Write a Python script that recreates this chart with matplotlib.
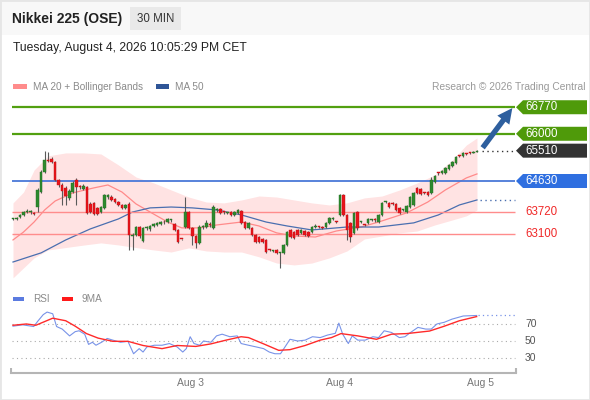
import matplotlib
matplotlib.use("Agg")
import matplotlib.pyplot as plt
from matplotlib.patches import Polygon, Rectangle, FancyArrowPatch
from matplotlib.transforms import IdentityTransform
import numpy as np

plt.rcParams['font.family'] = ['Liberation Sans', 'DejaVu Sans']

W, H = 590, 400

# 30 min candles, Nikkei 225 (OSE)
opens = [63530, 63530, 63585, 63645, 63730, 63730, 63705, 63875, 64310, 64890,
         65240, 65270, 65180, 64660, 64515, 64430, 64140, 64310, 64660, 64485,
         64400, 64455, 63965, 63995, 63850, 63730, 63850, 64165, 64165, 64110,
         64020, 63935, 63850, 63965, 63035, 63065, 63295, 62890, 63270, 63240,
         63325, 63355, 63385, 63440, 63440, 63500, 63385, 63210, 62950, 63295,
         63730, 63270, 63035, 62835, 63295, 63295, 63355, 63270, 63790, 63820,
         63730, 63705, 63730, 63645, 63705, 63760, 63440, 63270, 63270, 63065,
         63005, 62950, 62920, 62630, 62601, 62630, 62545, 62545, 62775, 63210,
         63150, 63210, 63125, 63180, 63150, 63150, 63295, 63295, 63295, 63295,
         63415, 63530, 63440, 63645, 64225, 63645, 63415, 63125, 63730, 63440,
         63355, 63415, 63500, 63500, 63440, 63645, 64020, 63995, 63965, 63965,
         63850, 63790, 63730, 63875, 63935, 64430, 64400, 64285, 64310, 64285,
         64600, 64865, 64865, 64865, 64980, 65065, 65155, 65355, 65355, 65415,
         65445, 65445, 65470]
closes = [63530, 63560, 63645, 63730, 63760, 63730, 63675, 64370, 64890, 65240,
          65215, 65180, 64660, 64515, 64340, 64195, 64340, 64575, 64455, 64455,
          64485, 63705, 63730, 63675, 63675, 63875, 64225, 64225, 64080, 64020,
          63935, 63850, 63935, 63065, 63050, 63295, 63035, 63270, 63280, 63325,
          63385, 63415, 63440, 63430, 63530, 63510, 63210, 62860, 62945, 63730,
          63270, 63035, 62835, 63295, 63300, 63415, 63350, 63875, 63795, 63705,
          63725, 63710, 63645, 63730, 63790, 63415, 63270, 63415, 63065, 62860,
          62860, 62860, 62570, 62625, 62605, 62545, 62550, 62775, 63150, 63005,
          62980, 63065, 63210, 63065, 63035, 63295, 63300, 63290, 63270, 63415,
          63560, 63535, 63435, 64225, 63645, 63210, 63005, 63705, 63270, 63445,
          63350, 63530, 63505, 63495, 63645, 63995, 64025, 63875, 63960, 63790,
          63705, 63795, 63905, 64165, 64285, 64285, 64255, 64280, 64225, 64660,
          64775, 64860, 64920, 65010, 65095, 65180, 65325, 65350, 65445, 65410,
          65440, 65470, 65510]
highs = [63560, 63585, 63675, 63760, 63820, 63790, 63730, 64430, 64950, 65500,
         65470, 65325, 65210, 64690, 64575, 64485, 64400, 64630, 64720, 64515,
         64545, 64485, 64020, 64020, 63875, 63905, 64255, 64255, 64225, 64140,
         64050, 63965, 63965, 64020, 63125, 63325, 63325, 63295, 63325, 63355,
         63415, 63440, 63470, 63500, 63560, 63530, 63415, 63240, 62960, 64165,
         63760, 63295, 63065, 63355, 63355, 63500, 63440, 63935, 63850, 63850,
         63760, 63730, 63760, 63760, 63820, 63790, 63470, 63440, 63295, 63095,
         63035, 62980, 62950, 62660, 62630, 62660, 62570, 62805, 63180, 63240,
         63180, 63240, 63240, 63210, 63180, 63325, 63385, 63325, 63325, 63440,
         63585, 63585, 63470, 64255, 64255, 63675, 63440, 63730, 63760, 63470,
         63385, 63560, 63530, 63560, 63675, 64020, 64050, 64020, 64020, 63995,
         63875, 63820, 63935, 64195, 64310, 64455, 64430, 64310, 64340, 64745,
         64805, 64890, 64950, 65035, 65125, 65210, 65355, 65385, 65470, 65445,
         65470, 65500, 65530]
lows = [63500, 63500, 63560, 63615, 63705, 63675, 63645, 63730, 64285, 64865,
        65180, 65155, 64630, 64455, 63935, 63935, 64080, 64285, 63935, 64400,
        64370, 63675, 63705, 63645, 63645, 63705, 63820, 64110, 64050, 63995,
        63905, 63820, 63820, 62630, 62630, 63035, 62980, 62860, 63210, 63180,
        63295, 63325, 63355, 63385, 63415, 63440, 63180, 62835, 62920, 63270,
        63240, 62775, 62690, 62805, 63240, 63270, 63295, 63240, 63730, 63675,
        63675, 63675, 63615, 63615, 63675, 63385, 63240, 63240, 63035, 62835,
        62835, 62835, 62545, 62600, 62570, 62515, 62110, 62515, 62745, 62980,
        62950, 63035, 63095, 63035, 63005, 63125, 63270, 63270, 63240, 63270,
        63385, 63500, 63415, 63615, 63615, 62920, 62860, 63095, 63210, 63415,
        63325, 63385, 63470, 63440, 63415, 63615, 63995, 63850, 63935, 63760,
        63675, 63760, 63705, 63850, 63905, 64255, 64225, 64255, 64195, 64255,
        64575, 64805, 64835, 64835, 64950, 65035, 65125, 65325, 65325, 65385,
        65415, 65440, 65460]

# Bollinger bands (MA 20) and MA 50, read at bar positions
band_idx = [0, 3, 6, 10, 15, 20, 25, 30, 35, 40, 45, 50, 55, 60, 65,
            70, 75, 80, 85, 90, 95, 100, 105, 110, 115, 120, 125, 129, 132]
band_upper = [63995, 64310, 64950, 65360, 65445, 65445, 65415, 65095, 64745, 64575,
              64370, 64165, 64020, 63995, 64080, 64195, 64165, 64080, 63995, 63935,
              63995, 64140, 64195, 64370, 64575, 64805, 65240, 65675, 65880]
band_lower = [61820, 62110, 62400, 62630, 62700, 62770, 62835, 62775, 62700, 62630,
              62570, 62690, 62600, 62570, 62570, 62430, 62250, 62195, 62250, 62400,
              62600, 62950, 63035, 63125, 63180, 63355, 63500, 63620, 63790]
ma20_idx = [0, 3, 6, 9, 12, 17, 23, 27, 31, 35, 39, 44, 48, 53, 58, 65, 70, 75,
            80, 86, 92, 99, 104, 112, 118, 123, 129, 132]
ma20 = [62920, 63150, 63440, 63790, 64050, 64285, 64430, 64515, 64310, 63965,
        63730, 63440, 63270, 63270, 63355, 63440, 63325, 63125, 63035, 63005,
        63180, 63295, 63440, 63705, 64020, 64370, 64720, 64835]
ma50_idx = [0, 8, 15, 22, 30, 34, 39, 45, 51, 58, 65, 72, 78, 85, 95, 104, 114, 121, 127, 132]
ma50 = [62280, 62545, 62920, 63240, 63530, 63730, 63850, 63875, 63850, 63790,
        63645, 63440, 63325, 63210, 63295, 63295, 63415, 63645, 63935, 64080]

# key levels
resist = [66770, 66000]
pivot = 64630
support = [63720, 63100]

# RSI + 9MA
rsi_idx = [0, 2.7, 5.9, 7.0, 8.6, 9.7, 11.3, 12.4, 14.0, 16.1, 17.7, 18.8, 20.4, 21.5,
           22.6, 23.6, 25.2, 26.8, 28.4, 30.6, 32.7, 34.3, 35.9, 37.0, 38.1, 40.2, 42.4,
           44.5, 46.7, 48.3, 49.3, 50.4, 51.5, 53.1, 54.2, 56.3, 57.9, 59.5, 61.7, 63.8,
           64.9, 67.0, 69.2, 71.3, 72.9, 74.5, 76.1, 77.7, 78.8, 81.0, 83.1, 85.2, 87.4,
           89.5, 91.7, 92.7, 93.8, 95.4, 96.5, 98.1, 100.2, 102.4, 104.0, 105.6, 107.7,
           109.9, 111.5, 113.1, 115.2, 117.4, 119.0, 120.6, 122.7, 124.9, 128.1, 131.9]
rsi = [67.4, 69, 67, 73, 81, 84, 82, 67, 64, 56, 61, 62, 58, 46, 48.5, 45, 48.5, 53,
       51, 48.5, 49.6, 35, 41, 37, 43, 45, 45, 47, 43, 37, 41, 55, 47, 45, 50, 48.5,
       56, 58, 55, 56, 47, 45, 43, 41, 37, 35, 35, 45, 52, 50, 51, 55, 54, 57, 59, 71,
       58, 47, 56, 51, 51, 55, 54, 62, 60, 54, 55, 60, 66, 64, 64, 70, 72, 75.7, 79.4, 80]
ma9_idx = [0, 3.8, 6.5, 11.3, 15.0, 17.7, 20.9, 24.2, 28.4, 32.7, 37.0, 42.4, 46.7,
           52.0, 56.3, 60.6, 64.9, 67.0, 71.3, 75.6, 78.8, 83.1, 87.4, 90.6, 93.3,
           98.1, 103.4, 107.7, 112.0, 118.5, 122.7, 127.0, 131.9]
ma9 = [68.5, 70, 68.5, 76.8, 73.8, 67.4, 58.7, 53.4, 49.6, 49.6, 44.7, 41, 44.7,
       43.6, 46.6, 51, 55, 54, 46.6, 39, 39.8, 44.7, 51, 54, 58.7, 56, 52, 58, 58.7,
       61.7, 67.4, 73.8, 78.7]
rsi_levels = [30, 50, 70]

day_pos = [50.4, 93.0, 133.1]
day_labels = ['Aug 3', 'Aug 4', 'Aug 5']


def px2i(px):
    # pixel column -> bar index
    return (px - 13) / 3.515


def rect(x0, y0, x1, y1):
    return [x0 / W, 1 - y1 / H, (x1 - x0) / W, (y1 - y0) / H]


fig = plt.figure(figsize=(W / 100, H / 100), dpi=100)
fig.patch.set_facecolor('white')

# header
fig.add_artist(Rectangle((0, 1 - 35 / H), 1, 35 / H, transform=fig.transFigure,
                         facecolor='#f8f8f8', edgecolor='none', zorder=0))
fig.add_artist(Rectangle((130 / W, 1 - 30 / H), 51 / W, 23 / H, transform=fig.transFigure,
                         facecolor='#e9e9e9', edgecolor='none', zorder=1))
fig.text(12 / W, 1 - 19 / H, 'Nikkei 225 (OSE)', fontsize=10, fontweight='bold',
         color='#222222', va='center')
fig.text(155.5 / W, 1 - 19 / H, '30 MIN', fontsize=8.3, color='#333333',
         va='center', ha='center')
fig.text(13 / W, 1 - 48 / H, 'Tuesday, August 4, 2026 10:05:29 PM CET', fontsize=8.7,
         color='#222222', va='center')

# legend row
fig.add_artist(Rectangle((13 / W, 1 - 89 / H), 14 / W, 5 / H, transform=fig.transFigure,
                         facecolor='#ff8c8c', edgecolor='none'))
fig.text(33 / W, 1 - 86.5 / H, 'MA 20 + Bollinger Bands', fontsize=7.2, color='#8a8a8a', va='center')
fig.add_artist(Rectangle((156 / W, 1 - 89 / H), 13 / W, 5 / H, transform=fig.transFigure,
                         facecolor='#2f5597', edgecolor='none'))
fig.text(175 / W, 1 - 86.5 / H, 'MA 50', fontsize=7.2, color='#8a8a8a', va='center')
fig.text(586 / W, 1 - 86.5 / H, 'Research \u00a9 2026 Trading Central', fontsize=7.4,
         color='#9a9a9a', va='center', ha='right')

# price panel
ax = fig.add_axes(rect(10, 95, 588, 282))
ax.set_xlim(px2i(10), px2i(588))
ax.set_ylim(61700, 67125)
ax.axis('off')

ax.fill_between(band_idx, band_lower, band_upper, color='#ffe3e3', lw=0, zorder=1)
ax.plot(ma20_idx, ma20, color='#ff8a8a', lw=0.9, zorder=2)
ax.plot(ma50_idx, ma50, color='#4a6fb0', lw=0.9, zorder=2)

xa, xb = px2i(12), px2i(515)
ax.hlines(resist, xa, xb, color='#52a010', lw=1.6, zorder=2)
ax.hlines(pivot, xa, xb, color='#4a78d8', lw=1.3, zorder=2)
ax.hlines(support, xa, xb, color='#ff8c8c', lw=1.0, zorder=2)

idx = np.arange(len(closes))
o = np.array(opens)
c = np.array(closes)
up = c >= o
bottom = np.minimum(o, c)
body = np.maximum(np.abs(c - o), 25)
ax.vlines(idx, lows, highs, color='#5a5a5a', lw=0.8, zorder=3)
ax.bar(idx[up], body[up], bottom=bottom[up], width=0.72, color='#2e8a2e',
       edgecolor='#236b23', lw=0.3, zorder=4)
ax.bar(idx[~up], body[~up], bottom=bottom[~up], width=0.72, color='#e8141b',
       edgecolor='#c01015', lw=0.3, zorder=4)

ax.hlines(closes[-1], px2i(482), px2i(515), color='#333333', lw=1, linestyles=(0, (1, 2.5)), zorder=3)
ax.hlines(ma50[-1], px2i(480), px2i(515), color='#4a6fb0', lw=1, linestyles=(0, (1, 2.5)), zorder=3)

arr = FancyArrowPatch((px2i(481), closes[-1] + 20), (px2i(514), resist[0] + 40),
                      arrowstyle='simple,head_width=0.9,head_length=0.9,tail_width=0.32',
                      mutation_scale=12, color='#2e5f9e', lw=0, zorder=6)
ax.add_patch(arr)

# price tags on the right
tags = [(resist[0], '#4f9a0a'), (resist[1], '#4f9a0a'), (closes[-1], '#333333'), (pivot, '#2f6fe0')]
for price, fc in tags:
    yd = ax.transData.transform((0, price))[1]
    pts = [(516, yd), (523, yd + 7), (587, yd + 7), (587, yd - 7), (523, yd - 7)]
    fig.add_artist(Polygon(pts, closed=True, transform=IdentityTransform(),
                           facecolor=fc, edgecolor='none', zorder=5))
    fig.text(525 / W, yd / H, str(price), color='white', fontsize=8.3, va='center', zorder=6)
for price in support:
    yd = ax.transData.transform((0, price))[1]
    fig.text(525 / W, yd / H, str(price), color='#f02828', fontsize=8.3, va='center')

# RSI panel
fig.add_artist(Rectangle((13 / W, 1 - 301 / H), 11 / W, 4 / H, transform=fig.transFigure,
                         facecolor='#5b7be0', edgecolor='none'))
fig.text(33 / W, 1 - 299 / H, 'RSI', fontsize=7.2, color='#8a8a8a', va='center')
fig.add_artist(Rectangle((62 / W, 1 - 301 / H), 11 / W, 4 / H, transform=fig.transFigure,
                         facecolor='#ff1a1a', edgecolor='none'))
fig.text(82 / W, 1 - 299 / H, '9MA', fontsize=7.2, color='#8a8a8a', va='center')

rax = fig.add_axes(rect(10, 300, 588, 373))
rax.set_xlim(px2i(10), px2i(588))
rax.set_ylim(12.35, 98.2)
rax.set_facecolor('none')
for s in ['top', 'left', 'right']:
    rax.spines[s].set_visible(False)
rax.spines['bottom'].set_bounds(px2i(11), px2i(516))
rax.spines['bottom'].set_color('#b5b5b5')
rax.spines['bottom'].set_linewidth(1.5)
rax.vlines([px2i(11), px2i(516)], 0, 0.07, transform=rax.get_xaxis_transform(),
           color='#b5b5b5', lw=1.5)
rax.set_yticks([])
rax.set_xticks(day_pos, day_labels)
rax.tick_params(axis='x', length=0, pad=3.5, colors='#777777', labelsize=7.5)

rax.hlines(rsi_levels, px2i(12), px2i(515), colors='#aaaaaa', lw=0.8, linestyles=(0, (1, 3)))
rax.plot(rsi_idx, rsi, color='#7893e8', lw=0.8)
rax.plot(ma9_idx, ma9, color='#ff2a2a', lw=1.0)
rax.hlines(rsi[-1], px2i(478), px2i(515), colors='#7893e8', lw=0.9, linestyles=(0, (1, 2.5)))
for v in rsi_levels:
    rax.text(px2i(525), v, str(v), va='center', fontsize=7.5, color='#555555')

fig.add_artist(Rectangle((0, 0), 1, 1, transform=fig.transFigure, fill=False,
                         edgecolor='#e6e6e6', lw=2))

fig.savefig('out.png', dpi=100)
